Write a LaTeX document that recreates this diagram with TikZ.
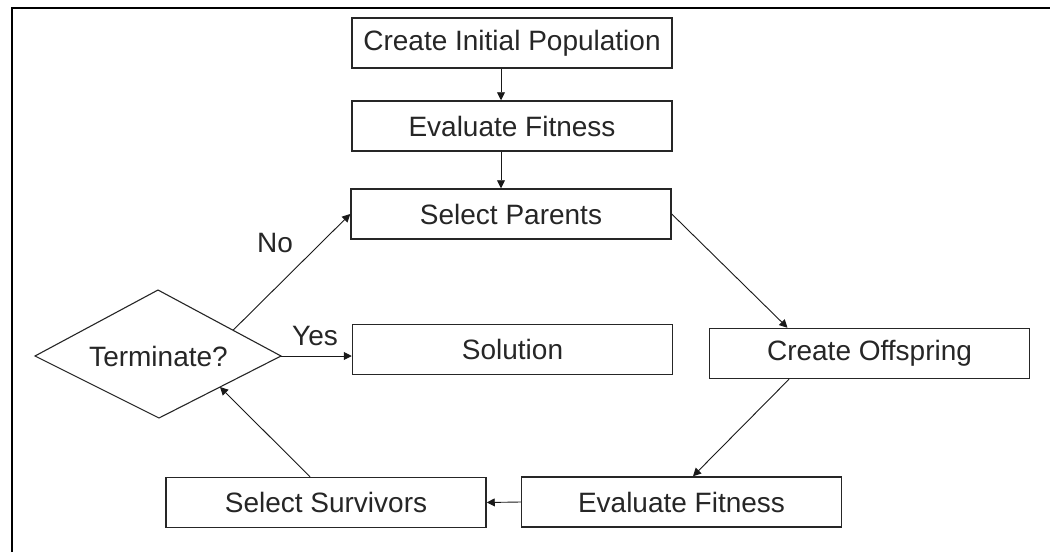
\documentclass[tikz,border=0pt]{standalone}
\usepackage{fontspec}
\setmainfont{Liberation Sans}
\usetikzlibrary{arrows.meta,calc}
\begin{document}
\begin{tikzpicture}[x=1pt,y=-1pt,
  every node/.style={font=\fontsize{28}{31}\selectfont, text=black!85},
  box/.style={draw=black!85, line width=1.5pt, minimum width=320pt, minimum height=50pt, inner sep=0pt},
  decline/.style={draw=black!85, line width=1.1pt, line join=miter},
  arr/.style={draw=black!90, line width=0.9pt, -{Triangle[length=8pt,width=8pt]}},
  lbl/.style={inner sep=0pt}]
\useasboundingbox (0,0) rectangle (1050,552);
\fill[white] (0,0) rectangle (1050,552);
\coordinate (bl) at (12,552);
\coordinate (tl) at (12,8);
\coordinate (tr) at (1050,8);
\draw[line width=2.2pt, black] (bl) -- (tl) -- (tr);

\node[box] (cip) at (512,43) {Create Initial Population};
\node[box] (ef1) at (512,126) {Evaluate Fitness};
\node[box] (sp) at (511,214) {Select Parents};
\node[box] (sol) at (512.5,349.5) {Solution};
\node[box] (co) at (869.5,353.5) {Create Offspring};
\node[box] (ef2) at (681.5,502) {Evaluate Fitness};
\node[box] (ss) at (326,502.5) {Select Survivors};

\coordinate (tN) at (158,290);
\coordinate (tE) at (281,356);
\coordinate (tS) at (159,418);
\coordinate (tW) at (35,356);
\draw[decline] (tN) -- (tE) -- (tS) -- (tW) -- cycle;
\node (t) at (158.5,356) {Terminate?};

\draw[arr] ([xshift=-11pt]cip.south) -- ([xshift=-11pt]ef1.north);
\draw[arr] ([xshift=-11pt]ef1.south) -- ([xshift=-10pt]sp.north);
\draw[arr] (sp.east) -- ([xshift=-82pt]co.north);
\draw[arr] ([xshift=-80.5pt]co.south) -- ([xshift=11.5pt]ef2.north);
\draw[arr] (ef2.west) -- (ss.east);
\draw[arr] ([xshift=-16pt]ss.north) -- ($(tE)!0.5!(tS)$);
\draw[arr] ($(tN)!0.61!(tE)$) -- (sp.west);
\draw[arr] (tE) -- (tE -| sol.west);

\node[lbl] (yes) at (315,336) {Yes};
\node[lbl] (no) at (275,243) {No};
\end{tikzpicture}
\end{document}
